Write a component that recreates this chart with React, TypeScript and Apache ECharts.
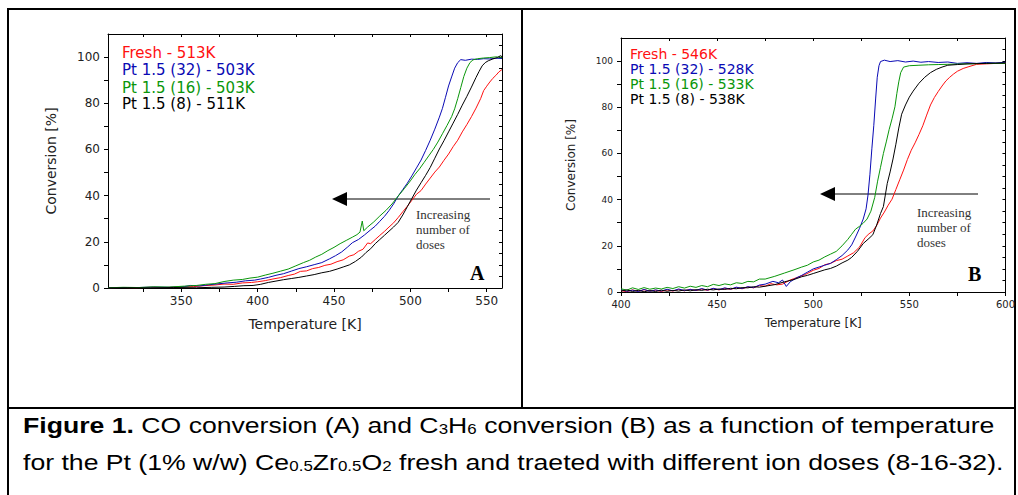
import React, { useEffect, useRef } from 'react';
import * as echarts from 'echarts';

// ---------- Panel A: CO conversion ----------
const coFresh: [number, number][] = [[302,0.1],[310,0.2],[320,0.1],[330,0.3],[340,0.2],[350,0.5],[358,0.6],[365,1.0],[372,1.3],[378,1.7],[384,1.6],[390,2.2],[396,2.4],[400,2.7],[405,3.2],[410,3.9],[415,4.5],[420,5.4],[424,6.0],[428,7.2],[432,7.4],[436,8.4],[440,8.9],[444,9.8],[448,10.3],[452,11.4],[456,12.2],[460,13.8],[463,14.4],[466,15.9],[469,16.8],[472,19.5],[474,19.2],[477,21.0],[480,22.8],[483,24.5],[486,26.4],[489,28.2],[492,30.5],[495,33.0],[498,35.4],[501,38.0],[504,40.6],[507,42.2],[510,45.0],[513,47.6],[516,50.2],[519,52.4],[522,55.3],[525,58.0],[528,61.2],[531,64.0],[534,67.6],[537,70.8],[540,74.2],[543,77.9],[546,82.0],[548,85.5],[550,87.4],[552,89.2],[554,90.8],[556,92.1],[558,93.6],[560,94.6]];
const coPt32: [number, number][] = [[302,0.1],[312,0.2],[322,0.2],[332,0.4],[342,0.3],[352,0.6],[356,1.1],[362,0.9],[368,1.4],[374,1.8],[380,2.2],[386,2.5],[392,3.1],[398,3.4],[402,3.9],[407,4.6],[412,5.5],[417,6.2],[422,7.3],[427,8.4],[432,9.2],[437,10.1],[442,11.0],[447,12.6],[451,14.0],[455,15.6],[459,17.8],[462,19.6],[466,21.0],[470,23.0],[474,25.2],[477,26.8],[480,28.9],[483,31.0],[486,33.5],[489,36.4],[492,39.8],[495,42.6],[498,45.4],[501,48.6],[504,52.0],[507,55.4],[510,59.6],[513,64.0],[516,68.8],[519,74.0],[521,77.8],[523,82.6],[525,87.5],[527,91.4],[529,95.2],[531,97.6],[533,98.9],[536,98.6],[540,99.1],[544,99.0],[548,99.3],[552,99.2],[556,99.5],[560,99.4]];
const coPt16: [number, number][] = [[302,0.1],[312,0.3],[322,0.2],[332,0.5],[342,0.4],[352,0.8],[360,1.1],[366,1.6],[372,1.9],[378,2.8],[384,3.4],[390,3.7],[395,4.3],[400,4.7],[405,5.6],[410,6.4],[415,7.3],[420,8.2],[425,9.6],[430,11.0],[434,12.0],[438,13.4],[442,14.6],[446,16.2],[450,17.6],[454,19.2],[458,20.6],[462,22.0],[465,23.1],[467,24.2],[468.5,29.0],[469.5,24.8],[472,26.4],[476,28.6],[480,31.2],[484,33.6],[488,36.4],[492,39.8],[496,43.0],[500,46.4],[503,49.2],[506,51.6],[509,54.4],[512,57.2],[515,60.0],[518,63.2],[521,66.8],[524,70.4],[527,74.2],[529,77.6],[531,82.0],[533,86.8],[535,91.6],[537,95.2],[539,97.6],[541,98.8],[544,99.3],[548,99.6],[552,99.8],[556,100.1],[560,99.9]];
const coPt8: [number, number][] = [[302,0.0],[315,0.1],[330,0.0],[345,0.2],[360,0.1],[370,0.3],[378,0.4],[385,0.7],[391,1.0],[397,1.1],[402,1.6],[407,2.4],[412,3.0],[417,3.6],[422,4.1],[427,4.6],[432,5.2],[437,5.8],[442,6.6],[447,7.2],[452,8.2],[456,9.1],[460,10.0],[464,11.5],[468,13.4],[471,15.4],[474,17.0],[477,19.2],[480,21.0],[483,22.8],[486,24.6],[489,26.4],[492,28.4],[495,31.6],[498,35.2],[501,38.8],[504,42.4],[507,45.6],[510,48.8],[513,52.2],[516,56.2],[519,60.2],[522,63.8],[525,67.6],[528,71.4],[531,75.2],[534,79.2],[537,83.0],[540,87.0],[543,91.2],[545,93.8],[547,96.2],[549,97.6],[551,98.4],[554,99.2],[557,99.8],[559,100.6],[560,100.2]];

// ---------- Panel B: C3H6 conversion ----------
const hcFresh: [number, number][] = [[400,0.6],[403,0.1],[406,0.9],[409,0.3],[412,1.0],[415,0.4],[418,0.8],[421,0.2],[424,0.9],[427,0.4],[430,1.1],[433,0.5],[436,1.2],[439,0.6],[442,1.3],[445,0.7],[448,1.5],[451,0.9],[454,1.6],[457,1.1],[460,1.9],[463,1.4],[466,2.2],[469,1.8],[472,2.8],[475,2.5],[478,3.6],[481,3.1],[484,3.4],[488,5.2],[492,6.4],[496,7.6],[500,9.4],[503,10.2],[506,11.8],[509,12.4],[512,13.6],[515,14.2],[518,15.6],[521,17.0],[524,19.4],[527,23.6],[529,25.2],[531,26.4],[533,28.8],[535,32.0],[537,34.6],[539,37.6],[541,40.2],[543,44.4],[545,48.6],[547,52.8],[549,57.4],[551,61.4],[553,64.6],[555,68.2],[557,72.0],[559,76.6],[561,81.0],[563,84.2],[565,86.8],[567,89.2],[569,91.4],[571,93.0],[573,94.4],[575,95.6],[578,96.8],[581,97.6],[585,98.6],[590,98.8],[595,99.0],[600,99.2]];
const hcPt32: [number, number][] = [[400,1.0],[403,0.3],[406,0.8],[409,0.2],[412,1.1],[415,0.3],[418,0.9],[421,0.4],[424,1.2],[427,0.5],[430,1.3],[433,0.6],[436,1.1],[439,0.7],[442,1.5],[445,0.8],[448,1.6],[451,1.0],[454,1.8],[457,1.2],[460,2.1],[463,1.5],[466,2.3],[469,1.9],[472,3.0],[475,3.4],[479,4.6],[482,4.0],[484,5.2],[486,2.4],[488,4.4],[491,6.0],[494,7.2],[497,8.6],[500,10.0],[503,10.8],[506,11.6],[509,12.4],[512,14.0],[515,15.8],[518,18.2],[520,20.4],[522,23.8],[524,27.4],[526,31.6],[527.5,36.0],[528.5,42.0],[529.5,51.0],[530.5,62.0],[531.5,72.0],[532.5,84.0],[533.3,93.0],[534.2,98.0],[535,99.8],[537,100.4],[540,99.8],[544,100.2],[548,99.6],[552,100.0],[556,99.5],[560,99.8],[565,99.4],[570,99.6],[575,99.0],[580,99.3],[585,99.0],[590,99.4],[595,99.2],[600,99.5]];
const hcPt16: [number, number][] = [[400,1.4],[403,0.8],[406,1.8],[409,1.1],[412,1.9],[415,1.2],[418,1.7],[421,1.3],[424,2.0],[427,1.5],[430,2.3],[433,1.7],[436,2.5],[439,2.0],[442,2.8],[445,2.3],[448,3.3],[451,2.8],[454,3.5],[457,3.1],[460,4.0],[463,3.7],[466,4.6],[469,4.4],[472,5.6],[475,5.6],[480,6.8],[485,8.2],[490,9.6],[494,10.8],[497,11.6],[500,13.0],[503,13.8],[506,15.2],[509,16.4],[512,17.6],[515,20.0],[518,22.8],[520,25.0],[522,27.2],[524,28.4],[526,29.8],[528,31.6],[530,35.0],[532,41.0],[533.5,48.0],[535,54.0],[536.5,60.0],[538,65.0],[539.5,70.4],[541,75.0],[542.5,80.2],[543.5,86.0],[544.5,91.0],[545.5,95.0],[547,97.4],[550,98.0],[555,98.2],[560,98.4],[565,98.5],[570,98.6],[575,98.7],[580,98.8],[590,99.0],[600,99.0]];
const hcPt8: [number, number][] = [[400,0.4],[403,0.9],[406,0.2],[409,0.7],[412,0.1],[415,0.6],[418,0.2],[421,0.8],[424,0.3],[427,0.7],[430,0.4],[433,0.9],[436,0.5],[439,1.0],[442,0.7],[445,1.2],[448,0.9],[451,1.3],[454,1.1],[457,1.6],[460,1.4],[463,1.9],[466,1.8],[469,2.3],[472,2.1],[475,2.5],[480,3.2],[485,4.4],[490,5.4],[494,6.6],[497,7.2],[500,8.0],[503,8.8],[506,9.6],[509,10.2],[512,11.2],[515,12.6],[518,13.8],[520,15.0],[523,17.6],[526,21.0],[529,23.2],[531,24.8],[533,29.0],[535,34.0],[536.5,37.0],[537.5,42.0],[538.5,47.0],[540,52.0],[541.5,57.6],[543,64.0],[544.5,71.0],[546,77.0],[548,81.0],[550,84.4],[552,87.0],[555,90.4],[558,93.0],[561,95.0],[564,96.4],[567,97.4],[570,98.2],[575,98.5],[580,98.8],[590,99.0],[600,99.2]];

// ---------- Ticks, labels, legends ----------
const xLabelsA = [350, 400, 450, 500, 550];
const xTicksA = [325, 350, 375, 400, 425, 450, 475, 500, 525, 550];
const xLabelsB = [400, 450, 500, 550, 600];
const xTicksB = [400, 425, 450, 475, 500, 525, 550, 575, 600];
const yLabels = [0, 20, 40, 60, 80, 100];
const yTicks = [0, 10, 20, 30, 40, 50, 60, 70, 80, 90, 100];
const yTicksRight = [5, 10, 15, 20, 25, 30, 35, 40, 45, 50, 55, 60, 65, 70, 75, 80, 85, 90, 95, 100, 105];
const legendA = ['Fresh - 513K', 'Pt 1.5 (32) - 503K', 'Pt 1.5 (16) - 503K', 'Pt 1.5 (8) - 511K'];
const legendB = ['Fresh - 546K', 'Pt 1.5 (32) - 528K', 'Pt 1.5 (16) - 533K', 'Pt 1.5 (8) - 538K'];
const colors = ['#ff1010', '#0a0ab4', '#0a960a', '#000000'];

const SANS = '"DejaVu Sans", Arial, sans-serif';
const ARIAL = '"Liberation Sans", Arial, sans-serif';
const SERIF = '"Liberation Serif", "Times New Roman", serif';

function bottomX(gridIndex: number, min: number, max: number, labels: number[], ticks: number[], fs: number, nameFs: number, nameGap: number) {
  return {
    type: 'value', gridIndex, min, max, position: 'bottom',
    axisLine: { show: true, onZero: false, lineStyle: { color: '#000', width: 1 } },
    axisTick: { show: true, inside: false, length: 4, customValues: ticks, lineStyle: { color: '#000', width: 1 } },
    axisLabel: { show: true, customValues: labels, fontSize: fs, fontFamily: SANS, color: '#222', margin: 7 },
    splitLine: { show: false },
    name: 'Temperature [K]', nameLocation: 'middle', nameGap,
    nameTextStyle: { fontSize: nameFs, fontFamily: SANS, color: '#222' },
  };
}
function topX(gridIndex: number, min: number, max: number, ticks: number[]) {
  return {
    type: 'value', gridIndex, min, max, position: 'top',
    axisLine: { show: true, onZero: false, lineStyle: { color: '#000', width: 1 } },
    axisTick: { show: true, inside: true, length: 3, customValues: ticks, lineStyle: { color: '#000', width: 1 } },
    axisLabel: { show: false },
    splitLine: { show: false },
  };
}
function leftY(gridIndex: number, fs: number, nameFs: number, nameGap: number, margin: number) {
  return {
    type: 'value', gridIndex, min: 0, max: 110, position: 'left',
    axisLine: { show: true, onZero: false, lineStyle: { color: '#000', width: 1 } },
    axisTick: { show: true, inside: false, length: 4, customValues: yTicks, lineStyle: { color: '#000', width: 1 } },
    axisLabel: { show: true, customValues: yLabels, fontSize: fs, fontFamily: SANS, color: '#222', margin },
    splitLine: { show: false },
    name: 'Conversion [%]', nameLocation: 'middle', nameGap,
    nameTextStyle: { fontSize: nameFs, fontFamily: SANS, color: '#222' },
  };
}
function rightY(gridIndex: number) {
  return {
    type: 'value', gridIndex, min: 0, max: 110, position: 'right',
    axisLine: { show: true, onZero: false, lineStyle: { color: '#000', width: 1 } },
    axisTick: { show: true, inside: true, length: 3, customValues: yTicksRight, lineStyle: { color: '#000', width: 1 } },
    axisLabel: { show: false },
    splitLine: { show: false },
  };
}
function line(name: string, data: [number, number][], color: string, xi: number, yi: number) {
  return {
    type: 'line', name, data, xAxisIndex: xi, yAxisIndex: yi, showSymbol: false, symbol: 'none',
    lineStyle: { color, width: 1 }, itemStyle: { color }, silent: true,
  };
}

function legendTexts(labels: string[], x: number, ys: number[], fs: number) {
  return labels.map((t, i) => ({
    type: 'text', x, y: ys[i],
    style: { text: t, fill: colors[i], fontSize: fs, fontFamily: SANS, verticalAlign: 'middle', align: 'left' },
  }));
}
function arrow(x1: number, x2: number, y: number) {
  return [
    { type: 'line', shape: { x1, y1: y, x2: x2 + 12, y2: y }, style: { stroke: '#000', lineWidth: 1 } },
    { type: 'polygon', shape: { points: [[x2, y], [x2 + 15, y - 7], [x2 + 15, y + 7]] }, style: { fill: '#000' } },
  ];
}

export default function App() {
  const ref = useRef<HTMLDivElement>(null);
  useEffect(() => {
    document.body.style.margin = '0';
    const chart = echarts.init(ref.current!, undefined, { renderer: 'svg' });
    const sub = { fontSize: 14, fontFamily: ARIAL, fill: '#000', verticalAlign: 'bottom' };
    const norm = { fontSize: 22, fontFamily: ARIAL, fill: '#000' };
    const option: any = {
      animation: false,
      backgroundColor: '#fff',
      grid: [
        { left: 108, top: 34, width: 394, height: 254, containLabel: false },
        { left: 621, top: 38, width: 387, height: 254, containLabel: false },
      ],
      xAxis: [
        bottomX(0, 302, 560, xLabelsA, xTicksA, 12, 14, 29),
        topX(0, 302, 560, xTicksA),
        bottomX(1, 400, 600, xLabelsB, xTicksB, 10, 12, 25),
        topX(1, 400, 600, xTicksB),
      ],
      yAxis: [
        leftY(0, 12, 14, 50, 8),
        rightY(0),
        leftY(1, 9, 12, 44, 8),
        rightY(1),
      ],
      series: [
        line('Fresh A', coFresh, colors[0], 0, 0),
        line('Pt 1.5 (32) A', coPt32, colors[1], 0, 0),
        line('Pt 1.5 (16) A', coPt16, colors[2], 0, 0),
        line('Pt 1.5 (8) A', coPt8, colors[3], 0, 0),
        line('Fresh B', hcFresh, colors[0], 2, 2),
        line('Pt 1.5 (32) B', hcPt32, colors[1], 2, 2),
        line('Pt 1.5 (16) B', hcPt16, colors[2], 2, 2),
        line('Pt 1.5 (8) B', hcPt8, colors[3], 2, 2),
      ],
      graphic: [
        // frame
        { type: 'rect', z: -10, shape: { x: 8, y: 9, width: 1007, height: 490 }, style: { fill: 'none', stroke: '#000', lineWidth: 2 }, silent: true },
        { type: 'line', z: -10, shape: { x1: 522, y1: 9, x2: 522, y2: 408 }, style: { stroke: '#000', lineWidth: 2 } },
        { type: 'line', z: -10, shape: { x1: 8, y1: 408, x2: 1015, y2: 408 }, style: { stroke: '#000', lineWidth: 2 } },
        // legends
        ...legendTexts(legendA, 122, [53, 70, 87.5, 104], 15),
        ...legendTexts(legendB, 630, [54, 69, 84, 99], 14),
        // arrows + annotations
        ...arrow(490, 332, 199),
        ...arrow(978, 820, 194),
        { type: 'text', x: 416, y: 206.5, style: { text: 'Increasing\nnumber of\ndoses', fill: '#333', fontSize: 13, fontFamily: SERIF, lineHeight: 15, verticalAlign: 'top', align: 'left' } },
        { type: 'text', x: 917, y: 205, style: { text: 'Increasing\nnumber of\ndoses', fill: '#333', fontSize: 13, fontFamily: SERIF, lineHeight: 15, verticalAlign: 'top', align: 'left' } },
        { type: 'text', x: 470, y: 273, style: { text: 'A', fill: '#000', fontSize: 20, fontWeight: 'bold', fontFamily: SERIF, verticalAlign: 'middle', align: 'left' } },
        { type: 'text', x: 968, y: 274, style: { text: 'B', fill: '#000', fontSize: 20, fontWeight: 'bold', fontFamily: SERIF, verticalAlign: 'middle', align: 'left' } },
        // caption
        {
          type: 'text', x: 23, y: 425, scaleX: 1.21,
          style: {
            text: '{b|Figure 1.}{n| CO conversion (A) and C}{s|3}{n|H}{s|6}{n| conversion (B) as a function of temperature}',
            verticalAlign: 'middle', align: 'left',
            rich: { b: { ...norm, fontWeight: 'bold' }, n: norm, s: sub },
          },
        },
        {
          type: 'text', x: 23, y: 462, scaleX: 1.21,
          style: {
            text: '{n|for the Pt (1% w/w) Ce}{s|0.5}{n|Zr}{s|0.5}{n|O}{s|2}{n| fresh and traeted with different ion doses (8-16-32).}',
            verticalAlign: 'middle', align: 'left',
            rich: { n: norm, s: sub },
          },
        },
      ],
    };
    chart.setOption(option);
    return () => chart.dispose();
  }, []);
  return <div ref={ref} style={{ width: 1018, height: 495 }} />;
}
